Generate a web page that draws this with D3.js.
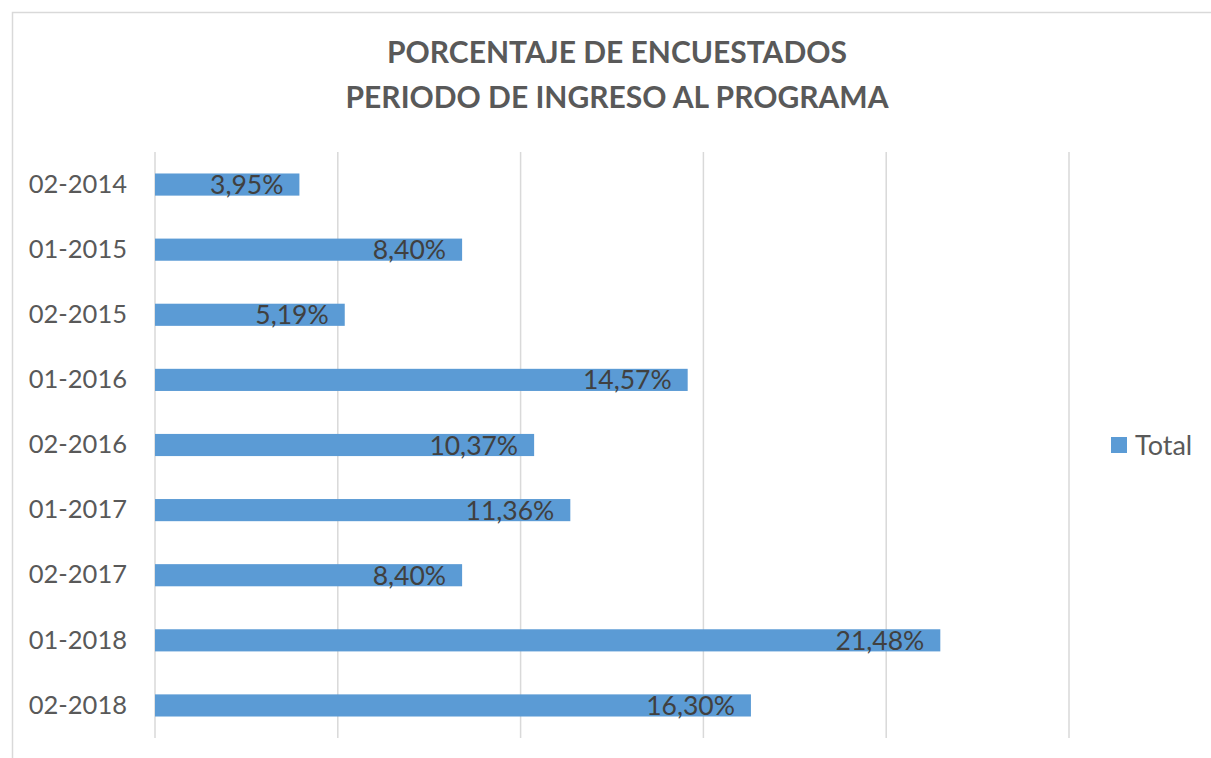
<!DOCTYPE html>
<html>
<head>
<meta charset="utf-8">
<script src="https://cdn.jsdelivr.net/npm/d3@7"></script>
<style>
  body { margin: 0; background: #fff; }
  svg { display: block; font-family: Lato, "Open Sans", sans-serif; }
</style>
</head>
<body>
<div id="chart"></div>
<script>
var periods = ["02-2014", "01-2015", "02-2015", "01-2016", "02-2016", "01-2017", "02-2017", "01-2018", "02-2018"];
var totals = [3.95, 8.40, 5.19, 14.57, 10.37, 11.36, 8.40, 21.48, 16.30];
var gridTicks = [0, 5, 10, 15, 20, 25];
var titleLines = ["PORCENTAJE DE ENCUESTADOS", "PERIODO DE INGRESO AL PROGRAMA"];
var seriesName = "Total";

var W = 1211, H = 758;
var margin = { top: 152, left: 155, right: 142, bottom: 20 };

var svg = d3.select("#chart").append("svg")
    .attr("width", W)
    .attr("height", H);

// chart frame
svg.append("rect")
    .attr("x", 12.5).attr("y", 12.5)
    .attr("width", W + 10).attr("height", H + 10)
    .attr("fill", "#fff")
    .attr("stroke", "#d9d9d9")
    .attr("stroke-width", 1.5);

var x = d3.scaleLinear()
    .domain([0, 25])
    .range([margin.left, W - margin.right]);

var y = d3.scaleBand()
    .domain(periods)
    .range([margin.top, H - margin.bottom])
    .paddingInner(0.66)
    .paddingOuter(0.33);

// gridlines
svg.append("g")
    .selectAll("line")
    .data(gridTicks)
    .join("line")
    .attr("x1", d => x(d)).attr("x2", d => x(d))
    .attr("y1", margin.top).attr("y2", H - margin.bottom)
    .attr("stroke", "#d9d9d9")
    .attr("stroke-width", 1.5);

// title
svg.append("g")
    .selectAll("text")
    .data(titleLines)
    .join("text")
    .attr("x", 617)
    .attr("y", (d, i) => 63 + i * 45)
    .attr("text-anchor", "middle")
    .attr("fill", "#595959")
    .attr("font-size", 30)
    .attr("font-weight", "bold")
    .text(d => d);

// category axis
var yAxis = svg.append("g")
    .attr("transform", "translate(" + (margin.left - 28) + ",0)")
    .call(d3.axisLeft(y).tickSize(0).tickPadding(0));
yAxis.select(".domain").remove();
yAxis.selectAll("text")
    .attr("fill", "#595959")
    .attr("font-size", 25.5)
    .attr("font-family", "Lato, 'Open Sans', sans-serif");

var data = periods.map((p, i) => ({ period: p, value: totals[i] }));

// bars
svg.append("g")
    .selectAll("rect")
    .data(data)
    .join("rect")
    .attr("x", x(0))
    .attr("y", d => y(d.period))
    .attr("width", d => x(d.value) - x(0))
    .attr("height", y.bandwidth())
    .attr("fill", "#5b9bd5");

// value labels (inside end)
svg.append("g")
    .selectAll("text")
    .data(data)
    .join("text")
    .attr("x", d => x(d.value) - 16)
    .attr("y", d => y(d.period) + y.bandwidth() / 2)
    .attr("dy", "0.36em")
    .attr("text-anchor", "end")
    .attr("fill", "#404040")
    .attr("font-size", 26.5)
    .text(d => d.value.toFixed(2).replace(".", ",") + "%");

// legend
var legend = svg.append("g").attr("transform", "translate(1111,445)");
legend.append("rect")
    .attr("x", 0).attr("y", -8)
    .attr("width", 16).attr("height", 16)
    .attr("fill", "#5b9bd5");
legend.append("text")
    .attr("x", 24).attr("y", 0)
    .attr("dy", "0.36em")
    .attr("fill", "#595959")
    .attr("font-size", 27)
    .text(seriesName);
</script>
</body>
</html>
